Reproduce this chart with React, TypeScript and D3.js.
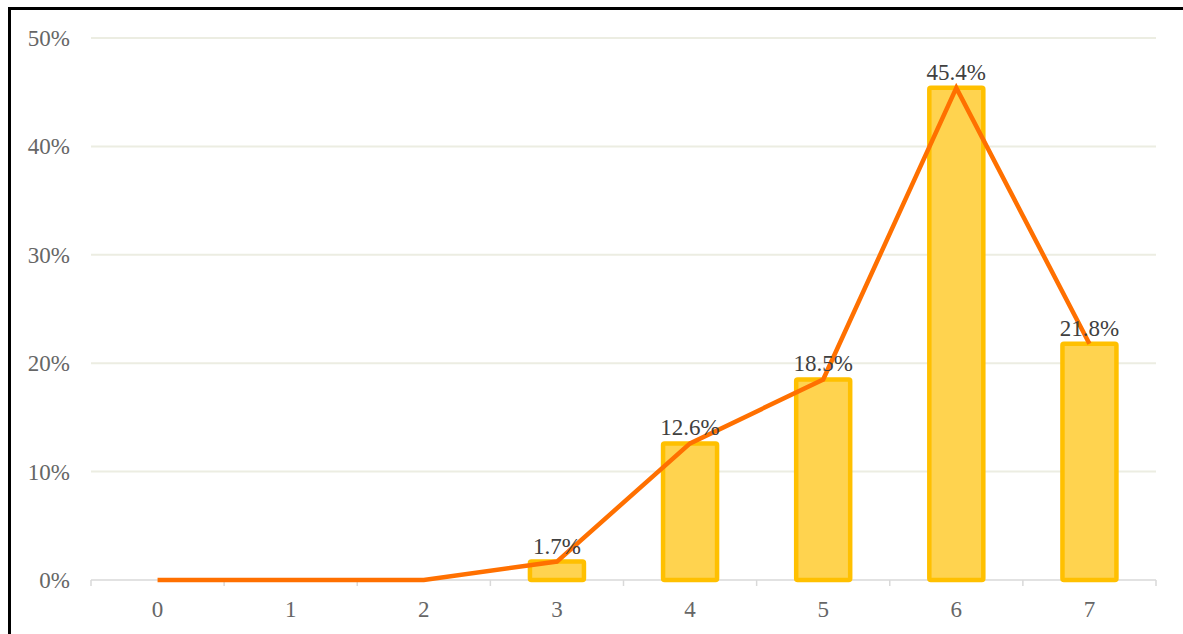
import React, { useEffect, useRef } from "react";
import * as d3 from "d3";

const categories = ["0", "1", "2", "3", "4", "5", "6", "7"];
const shares = [0, 0, 0, 1.7, 12.6, 18.5, 45.4, 21.8];
const yTicks = [0, 10, 20, 30, 40, 50];

const W = 1183;
const H = 634;

const App = () => {
  const svgRef = useRef<SVGSVGElement>(null);

  useEffect(() => {
    const svg = d3.select(svgRef.current);
    svg.selectAll("*").remove(); // start clean

    const margin = { left: 91, right: W - 1156, top: 38, bottom: H - 580 };
    const x = d3
      .scaleBand()
      .domain(categories)
      .range([margin.left, W - margin.right])
      .paddingInner(0)
      .paddingOuter(0);
    const y = d3
      .scaleLinear()
      .domain([0, 50])
      .range([H - margin.bottom, margin.top]);

    const font = "'Liberation Serif', 'Times New Roman', serif";

    // outer frame
    svg
      .append("rect")
      .attr("x", 9.5)
      .attr("y", 8.5)
      .attr("width", W + 20)
      .attr("height", H + 20)
      .attr("fill", "none")
      .attr("stroke", "#000")
      .attr("stroke-width", 3);

    // grid lines
    svg
      .append("g")
      .selectAll("line")
      .data(yTicks.filter((d) => d > 0))
      .join("line")
      .attr("x1", margin.left)
      .attr("x2", W - margin.right)
      .attr("y1", (d) => y(d))
      .attr("y2", (d) => y(d))
      .attr("stroke", "#ecede2")
      .attr("stroke-width", 2);

    // y labels
    svg
      .append("g")
      .selectAll("text")
      .data(yTicks)
      .join("text")
      .attr("x", 70)
      .attr("y", (d) => y(d))
      .attr("dy", "0.35em")
      .attr("text-anchor", "end")
      .attr("font-family", font)
      .attr("font-size", 23)
      .attr("fill", "#666")
      .text((d) => `${d}%`);

    // x axis line and ticks
    const base = y(0);
    svg
      .append("line")
      .attr("x1", margin.left)
      .attr("x2", W - margin.right)
      .attr("y1", base)
      .attr("y2", base)
      .attr("stroke", "#d9d9d9")
      .attr("stroke-width", 1.5);
    const edges = categories.map((c) => x(c)!).concat([W - margin.right]);
    svg
      .append("g")
      .selectAll("line")
      .data(edges)
      .join("line")
      .attr("x1", (d) => d)
      .attr("x2", (d) => d)
      .attr("y1", base)
      .attr("y2", base + 6)
      .attr("stroke", "#d9d9d9")
      .attr("stroke-width", 1.5);

    svg
      .append("g")
      .selectAll("text")
      .data(categories)
      .join("text")
      .attr("x", (d) => x(d)! + x.bandwidth() / 2)
      .attr("y", 617)
      .attr("text-anchor", "middle")
      .attr("font-family", font)
      .attr("font-size", 23)
      .attr("fill", "#666")
      .text((d) => d);

    // bars
    const barW = 54;
    const data = categories.map((c, i) => ({ c, v: shares[i] }));
    svg
      .append("g")
      .selectAll("rect")
      .data(data.filter((d) => d.v > 0))
      .join("rect")
      .attr("x", (d) => x(d.c)! + x.bandwidth() / 2 - barW / 2)
      .attr("y", (d) => y(d.v))
      .attr("width", barW)
      .attr("height", (d) => base - y(d.v))
      .attr("rx", 1.5)
      .attr("fill", "#ffd34f")
      .attr("stroke", "#ffc000")
      .attr("stroke-width", 4.5);

    // line
    const line = d3
      .line<{ c: string; v: number }>()
      .x((d) => x(d.c)! + x.bandwidth() / 2)
      .y((d) => y(d.v));
    svg
      .append("path")
      .datum(data)
      .attr("fill", "none")
      .attr("stroke", "#ff7000")
      .attr("stroke-width", 4.5)
      .attr("d", line);

    // value labels
    svg
      .append("g")
      .selectAll("text")
      .data(data.filter((d) => d.v > 0))
      .join("text")
      .attr("x", (d) => x(d.c)! + x.bandwidth() / 2)
      .attr("y", (d) => y(d.v) - 8)
      .attr("text-anchor", "middle")
      .attr("font-family", font)
      .attr("font-size", 23)
      .attr("fill", "#404040")
      .text((d) => `${d.v.toFixed(1)}%`);
  }, []);

  return (
    <svg
      ref={svgRef}
      width={W}
      height={H}
      style={{ position: "absolute", left: 0, top: 0, background: "#fff" }}
    />
  );
};

export default App;
